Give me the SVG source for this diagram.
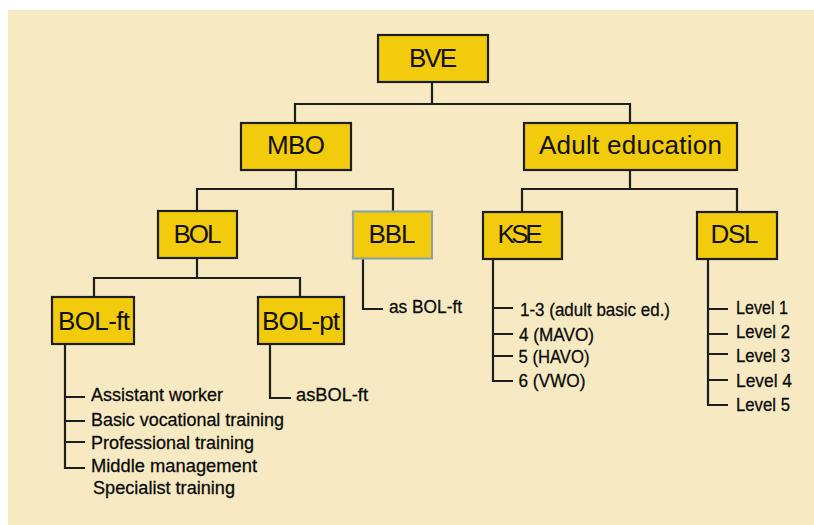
<svg xmlns="http://www.w3.org/2000/svg" width="814" height="525" viewBox="0 0 814 525">
<style>
.bg{fill:#f7eac3}
.box{fill:#f2cb0c;stroke:#1e1e1e;stroke-width:2.2}
.box.alt{stroke:#8ea3a5}
.lbl{font-family:"Liberation Sans",Arial,sans-serif;font-size:26px;fill:#111;text-anchor:middle}
.item{font-family:"Liberation Sans",Arial,sans-serif;font-size:19px;fill:#0a0a0a;stroke:#0a0a0a;stroke-width:0.3}
.con{fill:none;stroke:#1e1e1e;stroke-width:2.2}
</style>
<rect x="0" y="0" width="814" height="525" fill="#ffffff"/>
<rect class="bg" x="8" y="10" width="806" height="515"/>
<g id="connectors">
<path class="con" d="M432,82V104M295,123V104H630V123"/>
<path class="con" d="M296,170V189M197,211V189H393V211"/>
<path class="con" d="M630,170V189M522,212V189H737V212"/>
<path class="con" d="M197,258V278M94,297V278H300V297"/>
<path class="con" d="M65,344V468H85M65,397H85M65,421H85M65,442H85"/>
<path class="con" d="M270,344V398H291"/>
<path class="con" d="M363,258.5V309H383"/>
<path class="con" d="M493,259V381H513M493,308H513M493,334H513M493,356H513"/>
<path class="con" d="M708,259V405H728M708,309H728M708,334H728M708,354H728M708,380H728"/>
</g>
<g id="BVE"><rect class="box" x="378" y="35" width="110" height="47"/><text class="lbl" x="433" y="66.5" textLength="48">BVE</text></g>
<g id="MBO"><rect class="box" x="241" y="123" width="110" height="47"/><text class="lbl" x="296" y="154" textLength="58">MBO</text></g>
<g id="AdultEducation"><rect class="box" x="524" y="123" width="213" height="47"/><text class="lbl" x="630.5" y="153.5" textLength="183">Adult education</text></g>
<g id="BOL"><rect class="box" x="158" y="211" width="79" height="47"/><text class="lbl" x="197.5" y="242.5" textLength="48">BOL</text></g>
<g id="BBL"><rect class="box alt" x="353" y="211.5" width="79" height="47"/><text class="lbl" x="392" y="242.5" textLength="47">BBL</text></g>
<g id="KSE"><rect class="box" x="483" y="212" width="79" height="47"/><text class="lbl" x="520" y="242.5" textLength="45">KSE</text></g>
<g id="DSL"><rect class="box" x="697" y="212" width="80" height="47"/><text class="lbl" x="734.5" y="242.5" textLength="48">DSL</text></g>
<g id="BOL-ft"><rect class="box" x="52" y="297" width="82" height="47"/><text class="lbl" x="94" y="330" textLength="72">BOL-ft</text></g>
<g id="BOL-pt"><rect class="box" x="258" y="297" width="86" height="47"/><text class="lbl" x="301" y="330" textLength="78">BOL-pt</text></g>
<g id="BOL-ft-list">
<text class="item" x="91" y="401" textLength="132" lengthAdjust="spacingAndGlyphs">Assistant worker</text>
<text class="item" x="91" y="426" textLength="193" lengthAdjust="spacingAndGlyphs">Basic vocational training</text>
<text class="item" x="91" y="449" textLength="163" lengthAdjust="spacingAndGlyphs">Professional training</text>
<text class="item" x="91" y="472" textLength="166" lengthAdjust="spacingAndGlyphs">Middle management</text>
<text class="item" x="93" y="494" textLength="142" lengthAdjust="spacingAndGlyphs">Specialist training</text>
</g>
<g id="BOL-pt-list"><text class="item" x="296" y="401" textLength="72" lengthAdjust="spacingAndGlyphs">asBOL-ft</text></g>
<g id="BBL-list"><text class="item" x="389" y="313" textLength="73" lengthAdjust="spacingAndGlyphs">as BOL-ft</text></g>
<g id="KSE-list">
<text class="item" x="520" y="316" textLength="150" lengthAdjust="spacingAndGlyphs">1-3 (adult basic ed.)</text>
<text class="item" x="519" y="340.5" textLength="75" lengthAdjust="spacingAndGlyphs">4 (MAVO)</text>
<text class="item" x="518.5" y="362.5" textLength="71" lengthAdjust="spacingAndGlyphs">5 (HAVO)</text>
<text class="item" x="518.5" y="386.5" textLength="67" lengthAdjust="spacingAndGlyphs">6 (VWO)</text>
</g>
<g id="DSL-list">
<text class="item" x="736" y="313.5" textLength="52" lengthAdjust="spacingAndGlyphs">Level 1</text>
<text class="item" x="736" y="337.5" textLength="54" lengthAdjust="spacingAndGlyphs">Level 2</text>
<text class="item" x="736" y="361.5" textLength="54" lengthAdjust="spacingAndGlyphs">Level 3</text>
<text class="item" x="736" y="386.5" textLength="56" lengthAdjust="spacingAndGlyphs">Level 4</text>
<text class="item" x="736" y="410.5" textLength="54" lengthAdjust="spacingAndGlyphs">Level 5</text>
</g>
</svg>
